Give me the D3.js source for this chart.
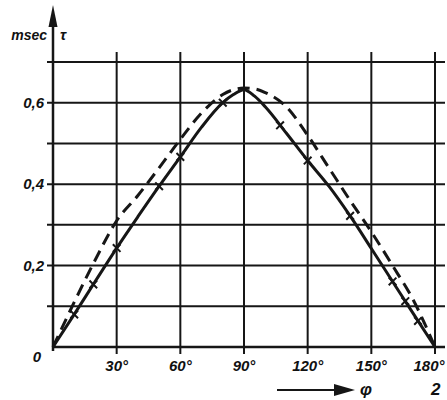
<!DOCTYPE html>
<html>
<head>
<meta charset="utf-8">
<script src="https://cdn.jsdelivr.net/npm/d3@7"></script>
<style>
  body { margin: 0; background: #fff; }
  svg { display: block; }
  text { font-family: 'Liberation Sans', Arial, sans-serif; font-weight: bold; font-style: italic; fill: #111; }
</style>
</head>
<body>
<svg id="chart" width="447" height="400"></svg>
<script>
// angle phi in degrees, tau in msec
const angles = [0, 10, 20, 30, 40, 50, 60, 70, 80, 85, 90, 95, 100, 110, 120, 130, 140, 150, 160, 170, 180];
const tauSolid = [0, 0.08, 0.162, 0.243, 0.32, 0.395, 0.467, 0.54, 0.6, 0.62, 0.632, 0.616, 0.59, 0.525, 0.458, 0.395, 0.322, 0.242, 0.161, 0.08, 0];
const tauDashed = [0, 0.11, 0.215, 0.31, 0.372, 0.44, 0.51, 0.575, 0.62, 0.632, 0.636, 0.634, 0.625, 0.59, 0.52, 0.44, 0.36, 0.283, 0.2, 0.113, 0];
// measured points marked with small crosses
const crossAngles = [10, 19, 30, 50, 60, 80, 107, 120, 140, 160, 166, 172];
const xTicks = [30, 60, 90, 120, 150, 180];
const xTickLabels = ['30°', '60°', '90°', '120°', '150°', '180°'];
const yGrid = [0.1, 0.2, 0.3, 0.4, 0.5, 0.6, 0.7];
const yTickLabels = [[0.2, '0,2'], [0.4, '0,4'], [0.6, '0,6']];

const svg = d3.select('svg#chart');
const ink = '#161616';

const x = d3.scaleLinear().domain([0, 180]).range([53, 435]);
const y = d3.scaleLinear().domain([0, 0.7]).range([347, 62]);

// grid
const grid = svg.append('g').attr('stroke', ink).attr('stroke-width', 2);
grid.selectAll('line.h')
  .data(yGrid)
  .enter()
  .append('line')
  .attr('x1', 47)
  .attr('x2', 445)
  .attr('y1', d => y(d))
  .attr('y2', d => y(d));
grid.selectAll('line.v')
  .data(xTicks)
  .enter()
  .append('line')
  .attr('x1', d => x(d))
  .attr('x2', d => x(d))
  .attr('y1', y(0.7) - 10)
  .attr('y2', y(0) + 7);
// baseline
grid.append('line')
  .attr('x1', x(0))
  .attr('x2', 445)
  .attr('y1', y(0))
  .attr('y2', y(0))
  .attr('stroke-width', 2.5);

// y axis with arrow
svg.append('line')
  .attr('x1', x(0)).attr('x2', x(0))
  .attr('y1', y(0) + 4).attr('y2', 20)
  .attr('stroke', ink).attr('stroke-width', 2.5);
svg.append('path')
  .attr('d', `M${x(0)},5 L${x(0) - 4.5},27 L${x(0) + 4.5},27 Z`)
  .attr('fill', ink);

// curves
const line = d3.line()
  .x(d => x(d[0]))
  .y(d => y(d[1]))
  .curve(d3.curveMonotoneX);

svg.append('path')
  .datum(angles.map((a, i) => [a, tauDashed[i]]))
  .attr('d', line)
  .attr('fill', 'none')
  .attr('stroke', ink)
  .attr('stroke-width', 3)
  .attr('stroke-dasharray', '12,7');

const solidData = angles.map((a, i) => [a, tauSolid[i]]);
svg.append('path')
  .datum(solidData)
  .attr('d', line)
  .attr('fill', 'none')
  .attr('stroke', ink)
  .attr('stroke-width', 3);

// crosses on the solid curve
const solidAt = d3.scaleLinear().domain(angles).range(tauSolid);
const sym = d3.symbol().type(d3.symbolTimes || d3.symbolX || d3.symbolCross).size(40);
svg.append('g')
  .selectAll('path')
  .data(crossAngles)
  .enter()
  .append('path')
  .attr('transform', d => `translate(${x(d)},${y(solidAt(d))})`)
  .attr('d', sym)
  .attr('fill', 'none')
  .attr('stroke', ink)
  .attr('stroke-width', 2);

// labels
svg.selectAll('text.ylab')
  .data(yTickLabels)
  .enter()
  .append('text')
  .attr('x', 44)
  .attr('y', d => y(d[0]) + 5)
  .attr('text-anchor', 'end')
  .attr('font-size', 15)
  .text(d => d[1]);
svg.append('text')
  .attr('x', 41).attr('y', y(0) + 15)
  .attr('text-anchor', 'end')
  .attr('font-size', 15)
  .text('0');

svg.selectAll('text.xlab')
  .data(xTicks)
  .enter()
  .append('text')
  .attr('x', (d, i) => x(d) + (i === xTicks.length - 1 ? -6 : 0))
  .attr('y', 371)
  .attr('text-anchor', 'middle')
  .attr('font-size', 15)
  .text((d, i) => xTickLabels[i]);

svg.append('text')
  .attr('x', 47).attr('y', 40)
  .attr('text-anchor', 'end')
  .attr('font-size', 14)
  .text('msec');
svg.append('text')
  .attr('x', 60).attr('y', 40)
  .attr('font-size', 15)
  .text('τ');

// phi arrow at the bottom
svg.append('line')
  .attr('x1', 277).attr('x2', 340)
  .attr('y1', 390).attr('y2', 390)
  .attr('stroke', ink).attr('stroke-width', 2);
svg.append('path')
  .attr('d', 'M355,390 L334,384 L334,396 Z')
  .attr('fill', ink);
svg.append('text')
  .attr('x', 360).attr('y', 395)
  .attr('font-size', 17)
  .text('φ');
svg.append('text')
  .attr('x', 431).attr('y', 395)
  .attr('font-size', 17)
  .text('2');
</script>
</body>
</html>
